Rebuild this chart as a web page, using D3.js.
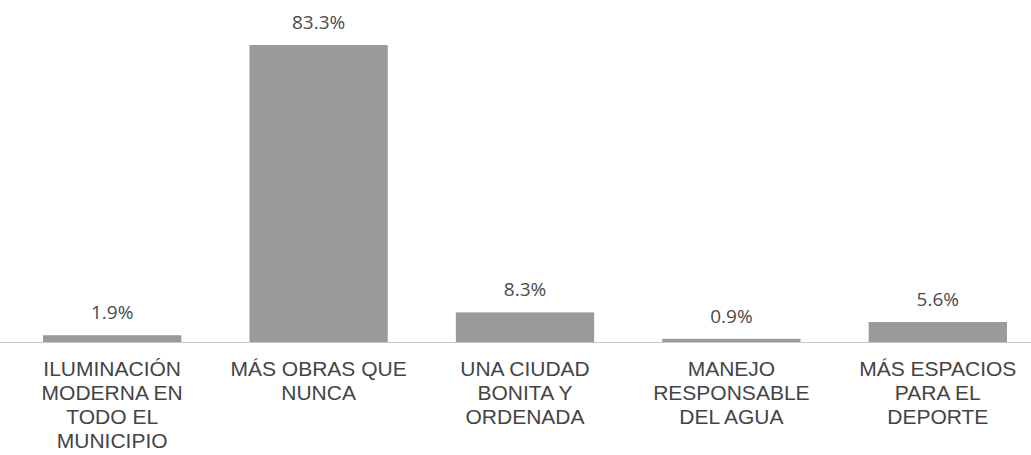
<!DOCTYPE html>
<html>
<head>
<meta charset="utf-8">
<script src="https://cdn.jsdelivr.net/npm/d3@7"></script>
<style>
  body { margin: 0; background: #fff; }
</style>
</head>
<body>
<div id="chart"></div>
<script>
// Data
const categories = [
  ["ILUMINACIÓN", "MODERNA EN", "TODO EL", "MUNICIPIO"],
  ["MÁS OBRAS QUE", "NUNCA"],
  ["UNA CIUDAD", "BONITA Y", "ORDENADA"],
  ["MANEJO", "RESPONSABLE", "DEL AGUA"],
  ["MÁS ESPACIOS", "PARA EL", "DEPORTE"]
];
const values = [1.9, 83.3, 8.3, 0.9, 5.6];
const valueLabels = ["1.9%", "83.3%", "8.3%", "0.9%", "5.6%"];

const WIDTH = 1031;
const HEIGHT = 455;
const BASELINE = 342;

const svg = d3.select("#chart")
  .append("svg")
  .attr("width", WIDTH)
  .attr("height", HEIGHT);

const x = d3.scaleBand()
  .domain(d3.range(values.length))
  .range([9, 1041])
  .paddingInner(0.33)
  .paddingOuter(0.165);

const y = d3.scaleLinear()
  .domain([0, 83.3])
  .range([BASELINE, 45]);

// Baseline
svg.append("line")
  .attr("x1", 0)
  .attr("x2", WIDTH)
  .attr("y1", BASELINE + 0.5)
  .attr("y2", BASELINE + 0.5)
  .attr("stroke", "#c8c8c8")
  .attr("stroke-width", 1);

// Bars
svg.selectAll("rect.bar")
  .data(values)
  .enter()
  .append("rect")
  .attr("class", "bar")
  .attr("x", (d, i) => x(i))
  .attr("y", d => y(d))
  .attr("width", x.bandwidth())
  .attr("height", d => Math.max(1.5, BASELINE - y(d)))
  .attr("fill", "#9a9a9a");

// Value labels
svg.selectAll("text.value")
  .data(values)
  .enter()
  .append("text")
  .attr("class", "value")
  .attr("x", (d, i) => x(i) + x.bandwidth() / 2)
  .attr("y", d => y(d) - 16)
  .attr("text-anchor", "middle")
  .style("font-family", "'Open Sans', sans-serif")
  .style("font-size", "19px")
  .style("fill", "#4a4a4a")
  .text((d, i) => valueLabels[i]);

// Category labels
const cat = svg.selectAll("text.cat")
  .data(categories)
  .enter()
  .append("text")
  .attr("class", "cat")
  .attr("text-anchor", "middle")
  .style("font-family", "'Liberation Sans', Arial, sans-serif")
  .style("font-size", "21px")
  .style("fill", "#444");

cat.selectAll("tspan")
  .data((d, i) => d.map(line => ({ line, i })))
  .enter()
  .append("tspan")
  .attr("x", d => x(d.i) + x.bandwidth() / 2)
  .attr("y", (d, j) => 376 + j * 24)
  .text(d => d.line);
</script>
</body>
</html>
